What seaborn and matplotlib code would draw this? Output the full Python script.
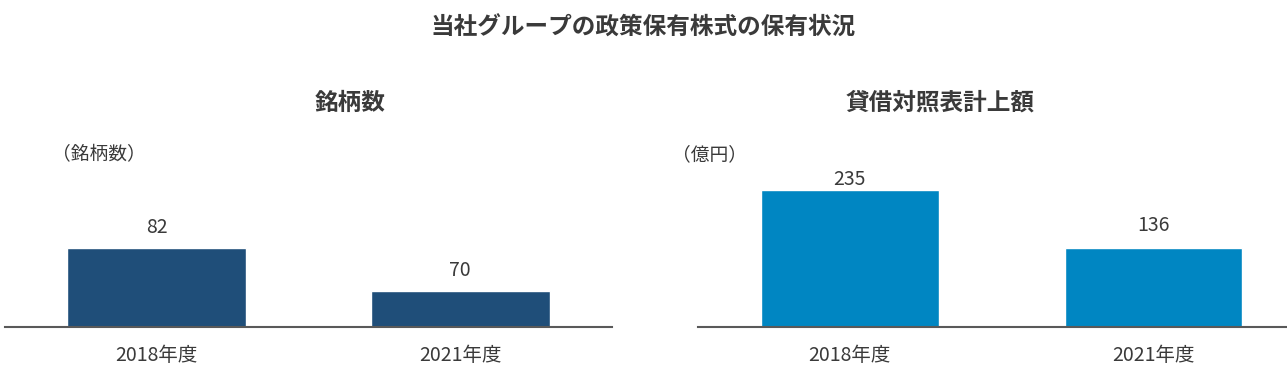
import matplotlib
matplotlib.use("Agg")
import matplotlib.pyplot as plt
import seaborn as sns
import pandas as pd

sns.set_theme(style="white")
plt.rcParams['font.family'] = ['Noto Sans CJK JP', 'DejaVu Sans']

suptitle = "当社グループの政策保有株式の保有状況"
categories = ["2018年度", "2021年度"]
count_values = [82, 70]
amount_values = [235, 136]
count_title = "銘柄数"
amount_title = "貸借対照表計上額"
count_unit = "（銘柄数）"
amount_unit = "（億円）"

TEXT = "#3a3a3a"
fig = plt.figure(figsize=(12.87, 3.73), dpi=100)

def panel(rect, values, color, title, unit, ylim, xlim, width, unit_x, title_x,
          offsets):
    ax = fig.add_axes(rect)
    df = pd.DataFrame({"cat": categories, "val": values})
    sns.barplot(data=df, x="cat", y="val", color=color, width=width,
                saturation=1, ax=ax)
    ax.set_ylim(*ylim)
    ax.set_xlim(*xlim)
    for s in ["top", "right", "left"]:
        ax.spines[s].set_visible(False)
    ax.spines["bottom"].set_color("#595959")
    ax.spines["bottom"].set_linewidth(1.5)
    ax.set_yticks([])
    ax.set_xlabel("")
    ax.set_ylabel("")
    ax.tick_params(axis="x", length=0, pad=13, labelsize=14, labelcolor=TEXT)
    for p, v, off in zip(ax.patches, values, offsets):
        ax.annotate(f"{v}", (p.get_x() + p.get_width() / 2, p.get_height()),
                    xytext=(0, off), textcoords="offset points",
                    ha="center", va="bottom", fontsize=14, color=TEXT)
    fig.text(title_x, 1 - 103 / 373, title, ha="center", va="center",
             fontsize=17, fontweight="bold", color=TEXT)
    fig.text(unit_x, 1 - 155 / 373, unit, ha="left", va="center",
             fontsize=13.5, color=TEXT)
    return ax

bottom = (373 - 327) / 373
top = (373 - 140) / 373
panel([5 / 1287, bottom, 607 / 1287, top - bottom], count_values, "#1f4e79",
      count_title, count_unit, (60, 112.2), (-0.5, 1.5), 0.59,
      52 / 1287, 350 / 1287, (7, 7))
panel([698 / 1287, bottom, 589 / 1287, top - bottom], amount_values, "#0086c2",
      amount_title, amount_unit, (0, 320), (-0.5, 1.44), 0.585,
      672 / 1287, 940 / 1287, (0, 8))

fig.text(0.5, 1 - 28 / 373, suptitle, ha="center", va="center",
         fontsize=17, fontweight="bold", color=TEXT)

fig.savefig("out.png", dpi=100, facecolor="white")
